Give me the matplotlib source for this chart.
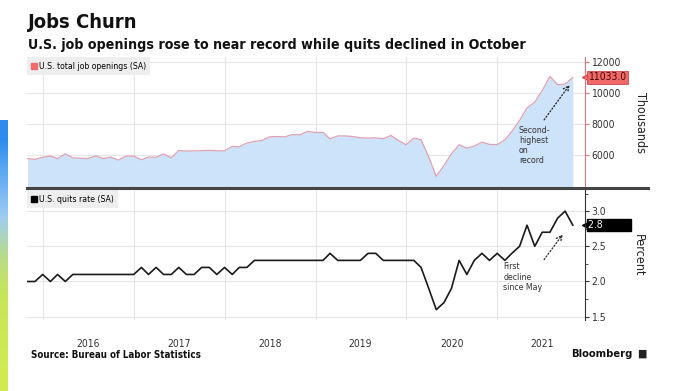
import matplotlib
matplotlib.use("Agg")
import matplotlib.pyplot as plt
import matplotlib.dates as mdates
import numpy as np
import pandas as pd
from matplotlib.lines import Line2D

plt.rcParams['font.family'] = ['DejaVu Sans']
plt.rcParams['font.stretch'] = 'condensed'

# monthly data, Oct 2015 .. Oct 2021
dates = pd.date_range('2015-10-31', '2021-10-31', freq='ME')

openings = [5790, 5750, 5880, 5960, 5800, 6100, 5850, 5820, 5800, 5970,
            5800, 5890, 5700, 5950, 5960, 5720, 5900, 5880, 6100, 5850,
            6320, 6280, 6300, 6310, 6330, 6300, 6300, 6580, 6560, 6800,
            6900, 6970, 7200, 7220, 7200, 7350, 7330, 7560, 7480, 7490,
            7070, 7260, 7260, 7220, 7140, 7120, 7140, 7075, 7290, 6960,
            6690, 7120, 7010, 5900, 4650, 5350, 6100, 6690, 6470, 6600,
            6860, 6710, 6700, 7010, 7550, 8260, 9070, 9440, 10190, 11098,
            10560, 10600, 11033]

quits = [2.0, 2.0, 2.1, 2.0, 2.1, 2.0, 2.1, 2.1, 2.1, 2.1,
         2.1, 2.1, 2.1, 2.1, 2.1, 2.2, 2.1, 2.2, 2.1, 2.1,
         2.2, 2.1, 2.1, 2.2, 2.2, 2.1, 2.2, 2.1, 2.2, 2.2,
         2.3, 2.3, 2.3, 2.3, 2.3, 2.3, 2.3, 2.3, 2.3, 2.3,
         2.4, 2.3, 2.3, 2.3, 2.3, 2.4, 2.4, 2.3, 2.3, 2.3,
         2.3, 2.3, 2.2, 1.9, 1.6, 1.7, 1.9, 2.3, 2.1, 2.3,
         2.4, 2.3, 2.4, 2.3, 2.4, 2.5, 2.8, 2.5, 2.7, 2.7,
         2.9, 3.0, 2.8]

years = [2016, 2017, 2018, 2019, 2020, 2021]
open_ticks = [6000, 8000, 10000, 12000]
quit_ticks = [1.5, 2.0, 2.5, 3.0]

W, H = 679, 391
fig = plt.figure(figsize=(W / 100, H / 100), dpi=100)
fig.patch.set_facecolor('white')

def fx(px):
    return px / W

def fy(py):
    return 1 - py / H

# screenshot artefact strip on the far left
strip = fig.add_axes([0, 0, fx(8), 1 - 120 / H])
grad = np.array([[0.18, 0.55, 0.93], [0.40, 0.68, 0.95], [0.62, 0.80, 0.95],
                 [0.72, 0.86, 0.55], [0.78, 0.90, 0.35], [0.80, 0.91, 0.33],
                 [0.82, 0.92, 0.32]])
strip.imshow(grad[:, None, :], aspect='auto', interpolation='bilinear')
strip.axis('off')

xmin = pd.Timestamp('2015-10-29')
xmax = pd.Timestamp('2021-12-19')

ax1 = fig.add_axes([fx(27), fy(188), fx(585 - 27), (188 - 57) / H])
ax2 = fig.add_axes([fx(27), fy(320), fx(585 - 27), (320 - 190) / H])

red = '#e8707a'
grid_c = '#e6e6e6'
year_starts = [pd.Timestamp(f'{y}-01-01') for y in years]
mid_years = [pd.Timestamp(f'{y}-07-01') for y in years]

for ax in (ax1, ax2):
    ax.set_xlim(xmin, xmax)
    for s in ('top', 'left', 'bottom'):
        ax.spines[s].set_visible(False)
    ax.yaxis.tick_right()
    ax.set_xticks(year_starts, minor=True)
    ax.set_xticks(mid_years)
    ax.grid(True, which='minor', axis='x', color=grid_c, lw=0.8)
    ax.grid(True, which='major', axis='y', color=grid_c, lw=0.8)
    ax.tick_params(axis='x', which='both', length=0)
    ax.set_axisbelow(True)

# top panel: job openings
ax1.fill_between(dates, openings, 0, color='#cde3fa', lw=0)
ax1.plot(dates, openings, color='#e0a0b4', lw=0.9)
ax1.set_ylim(3900, 12350)
ax1.set_yticks(open_ticks)
ax1.set_yticklabels([str(t) for t in open_ticks])
ax1.spines['right'].set_color(red)
ax1.tick_params(axis='y', colors=red, labelcolor='#333333', labelsize=7.5,
                length=3, pad=1.5)
ax1.tick_params(axis='x', labelbottom=False)
ax1.yaxis.set_label_position('right')
ax1.set_ylabel('Thousands', rotation=270, fontsize=9, color='#222222',
               va='center')
ax1.yaxis.set_label_coords(1.099, 0.5)

leg1 = ax1.legend([Line2D([], [], marker='s', color='#f06a6a', ls='none', ms=4.5)],
                  ['U.S. total job openings (SA)'], loc='upper left',
                  borderaxespad=0, fontsize=6.2, frameon=True, fancybox=False,
                  handlelength=0.6, handletextpad=0.2, borderpad=0.55)
leg1.get_frame().set_facecolor('#eeeeee')
leg1.get_frame().set_edgecolor('none')
leg1.get_frame().set_alpha(1)

last_o = openings[-1]
ax1.plot([1.0], [last_o], marker='<', ms=5, color='#f06a6a', mec='#c84848',
         transform=ax1.get_yaxis_transform(), clip_on=False)
ax1.annotate(f'{last_o:.1f}', xy=(1.0, last_o),
             xycoords=ax1.get_yaxis_transform(), xytext=(2.5, 0),
             textcoords='offset points', va='center', ha='left',
             fontsize=7.5, color='#4a0505',
             bbox=dict(boxstyle='square,pad=0.12', fc='#f06a6a', ec='#c84848',
                       lw=0.6))

ax1.text(pd.Timestamp('2021-03-28'), 7900, 'Second-\nhighest\non\nrecord',
         fontsize=6.3, color='#333333', va='top', ha='left', linespacing=1.15)
ax1.annotate('', xy=(pd.Timestamp('2021-10-25'), 10700),
             xytext=(pd.Timestamp('2021-07-01'), 8150),
             arrowprops=dict(arrowstyle='->', ls=':', color='#222222', lw=0.9))

# bottom panel: quits rate
ax2.plot(dates, quits, color='#1a1a1a', lw=1.2)
ax2.set_ylim(1.453, 3.30)
ax2.set_yticks(quit_ticks)
ax2.set_yticklabels([f'{t:.1f}' for t in quit_ticks])
ax2.set_yticks([1.75, 2.25, 2.75, 3.25], minor=True)
ax2.spines['right'].set_color('#333333')
ax2.tick_params(axis='y', which='major', colors='#333333', labelsize=7.5,
                length=3, pad=1.5)
ax2.tick_params(axis='y', which='minor', colors='#333333', length=2)
ax2.set_xticklabels([str(y) for y in years])
ax2.tick_params(axis='x', labelsize=7.5, labelcolor='#333333', pad=14)
ax2.yaxis.set_label_position('right')
ax2.set_ylabel('Percent', rotation=270, fontsize=9, color='#222222',
               va='center')
ax2.yaxis.set_label_coords(1.095, 0.5)

leg2 = ax2.legend([Line2D([], [], marker='s', color='black', ls='none', ms=4.5)],
                  ['U.S. quits rate (SA)'], loc='upper left',
                  borderaxespad=0, fontsize=6.2, frameon=True, fancybox=False,
                  handlelength=0.6, handletextpad=0.2, borderpad=0.55)
leg2.get_frame().set_facecolor('#eeeeee')
leg2.get_frame().set_edgecolor('none')
leg2.get_frame().set_alpha(1)

last_q = quits[-1]
ax2.plot([1.0], [last_q], marker='<', ms=5, color='black',
         transform=ax2.get_yaxis_transform(), clip_on=False)
ax2.annotate(f'{last_q:.1f}' + ' ' * 9, xy=(1.0, last_q),
             xycoords=ax2.get_yaxis_transform(), xytext=(2.5, 0),
             textcoords='offset points', va='center', ha='left',
             fontsize=7.5, color='white',
             bbox=dict(boxstyle='square,pad=0.12', fc='black', ec='black'))

ax2.text(pd.Timestamp('2021-01-25'), 2.27, 'First\ndecline\nsince May',
         fontsize=6.3, color='#333333', va='top', ha='left', linespacing=1.15)
ax2.annotate('', xy=(pd.Timestamp('2021-09-27'), 2.70),
             xytext=(pd.Timestamp('2021-07-01'), 2.28),
             arrowprops=dict(arrowstyle='->', ls=':', color='#222222', lw=0.9))

# separator between panels
fig.add_artist(Line2D([fx(27), fx(648)], [fy(188), fy(188)], color='#444444',
                      lw=2.2))

# titles and footer
fig.text(fx(28), fy(22), 'Jobs Churn', fontsize=14.5, fontweight='bold',
         va='center', ha='left', color='#111111')
fig.text(fx(28), fy(45), 'U.S. job openings rose to near record while quits declined in October',
         fontsize=10.2, fontweight='bold', va='center', ha='left', color='#111111')
fig.text(fx(31), fy(355), 'Source: Bureau of Labor Statistics', fontsize=7,
         fontweight='bold', va='center', ha='left', color='#111111')
fig.text(fx(632), fy(354), 'Bloomberg', fontsize=8, fontweight='bold',
         va='center', ha='right', color='#111111')
fig.text(fx(642), fy(354), '\u25a0', fontsize=8, va='center', ha='center',
         color='#222222')

fig.savefig('out.png', dpi=100)
